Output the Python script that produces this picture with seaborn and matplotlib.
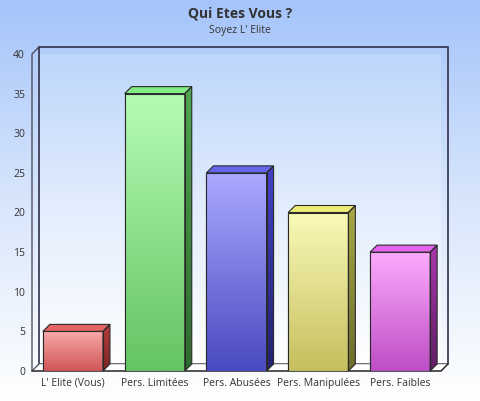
import numpy as np
import pandas as pd
import matplotlib
matplotlib.use("Agg")
import matplotlib.pyplot as plt
from matplotlib.colors import LinearSegmentedColormap
from matplotlib.patches import Polygon
import seaborn as sns

# ---- data ----
categories = ["L' Elite (Vous)", "Pers. Limitées", "Pers. Abusées", "Pers. Manipulées", "Pers. Faibles"]
values = [5, 35, 25, 20, 15]
y_ticks = [0, 5, 10, 15, 20, 25, 30, 35, 40]
title = "Qui Etes Vous ?"
subtitle = "Soyez L' Elite"

# colours: (front top, front bottom, top face, side top, side bottom)
front_top = ["#f7a8a8", "#b6fcb4", "#a9a9ff", "#fafab8", "#fcaafc"]
front_bot = ["#d05656", "#64c464", "#4a4ac2", "#c6bf5e", "#be4ec6"]
top_face = ["#e46464", "#84ec84", "#6464ec", "#ecec74", "#e464ec"]
side_top = ["#b43c3c", "#4ea84e", "#4242c8", "#a8a848", "#a838ae"]
side_bot = ["#7a2424", "#2e6a2e", "#22226e", "#6c6c2c", "#5e1e64"]

sns.set_theme(style="white")
plt.rcParams['font.family'] = ['Open Sans', 'DejaVu Sans']

W, H = 480, 401
fig = plt.figure(figsize=(W / 100, H / 100), dpi=100)

# figure background gradient
bg = fig.add_axes([0, 0, 1, 1], zorder=-10)
bg.axis("off")
grad = np.linspace(0, 1, 256).reshape(-1, 1)
bg_cmap = LinearSegmentedColormap.from_list("bg", ["#a5c4fa", "#d8e6fc", "#ffffff"])
bg.imshow(grad, aspect="auto", cmap=bg_cmap, extent=[0, 1, 0, 1], origin="upper")
bg.set_xlim(0, 1); bg.set_ylim(0, 1)

px_left, px_right, px_top, px_bottom = 32, 441, 54, 371
ax = fig.add_axes([px_left / W, (H - px_bottom) / H,
                   (px_right - px_left) / W, (px_bottom - px_top) / H])
ax.patch.set_alpha(0)

df = pd.DataFrame({"cat": categories, "val": values})
sns.barplot(data=df, x="cat", y="val", hue="cat", palette=front_bot, legend=False,
            width=0.735, ax=ax, edgecolor="#2a2a2a", linewidth=0.8, saturation=1)
bars = list(ax.patches)

xmin, xmax = -0.5, len(categories) - 0.5
ymin, ymax = 0, 40
ax.set_xlim(xmin, xmax)
ax.set_ylim(ymin, ymax)

# depth in data units (7 px each way)
dx = 7 / ((px_right - px_left) / (xmax - xmin))
dy = 7 / ((px_bottom - px_top) / (ymax - ymin))

vgrad = np.linspace(0, 1, 128).reshape(-1, 1)

# back wall
wall = Polygon([(xmin + dx, dy), (xmax + dx, dy), (xmax + dx, ymax + dy), (xmin + dx, ymax + dy)],
               closed=True, facecolor="none", edgecolor="#30304a", linewidth=1.2, zorder=0.5, clip_on=False)
ax.add_patch(wall)
wall_cmap = LinearSegmentedColormap.from_list("wall", ["#bcd5fb", "#e2edfd", "#ffffff"])
im = ax.imshow(vgrad, aspect="auto", cmap=wall_cmap, extent=[xmin + dx, xmax + dx, dy, ymax + dy],
               origin="upper", zorder=0.2)
im.set_clip_path(wall)

# floor
floor = Polygon([(xmin, 0), (xmax, 0), (xmax + dx, dy), (xmin + dx, dy)], closed=True,
                facecolor="white", edgecolor="#a0a0a0", linewidth=0.6, zorder=0.6, clip_on=False)
ax.add_patch(floor)
ax.plot([xmin, xmax, xmax + dx], [0, 0, dy], color="#202020", lw=1.0, zorder=0.7, clip_on=False)
# left wall
ax.plot([xmin, xmin, xmin + dx], [0, ymax, ymax + dy], color="#404050", lw=0.9, zorder=0.7, clip_on=False)
ax.plot([xmin, xmin + dx], [0, dy], color="#404050", lw=0.8, zorder=0.7, clip_on=False)

# 3D bars
for i, p in enumerate(bars):
    x0 = p.get_x(); w = p.get_width(); h = p.get_height()
    p.set_zorder(2)
    cm = LinearSegmentedColormap.from_list(f"f{i}", [front_top[i], front_bot[i]])
    gi = ax.imshow(vgrad, aspect="auto", cmap=cm, extent=[x0, x0 + w, 0, h], origin="upper", zorder=2.1)
    gi.set_clip_path(p)
    border = Polygon([(x0, 0), (x0 + w, 0), (x0 + w, h), (x0, h)], closed=True, fill=False,
                     edgecolor="#2a2a2a", lw=0.8, zorder=2.3)
    ax.add_patch(border)
    top = Polygon([(x0, h), (x0 + w, h), (x0 + w + dx, h + dy), (x0 + dx, h + dy)], closed=True,
                  facecolor=top_face[i], edgecolor="#2a2a2a", lw=0.8, zorder=2.3, clip_on=False)
    ax.add_patch(top)
    side = Polygon([(x0 + w, 0), (x0 + w + dx, dy), (x0 + w + dx, h + dy), (x0 + w, h)], closed=True,
                   facecolor="none", edgecolor="#2a2a2a", lw=0.8, zorder=2.4, clip_on=False)
    ax.add_patch(side)
    scm = LinearSegmentedColormap.from_list(f"s{i}", [side_top[i], side_bot[i]])
    si = ax.imshow(vgrad, aspect="auto", cmap=scm, extent=[x0 + w, x0 + w + dx, 0, h + dy],
                   origin="upper", zorder=2.2)
    si.set_clip_path(side)

ax.set_xlim(xmin, xmax)
ax.set_ylim(ymin, ymax)
ax.set_yticks(y_ticks)
ax.set_yticklabels([str(t) for t in y_ticks])
ax.set_xlabel(""); ax.set_ylabel("")
for s in ax.spines.values():
    s.set_visible(False)
ax.tick_params(axis="both", length=0, labelsize=7.5, labelcolor="#333333")
ax.tick_params(axis="y", pad=5)
ax.tick_params(axis="x", pad=5)

fig.text(0.5, 1 - 13 / H, title, ha="center", va="center", fontsize=10, fontweight="bold", color="#333333")
fig.text(0.5, 1 - 31 / H, subtitle, ha="center", va="center", fontsize=7.5, color="#333333")

fig.savefig("out.png", dpi=100)
